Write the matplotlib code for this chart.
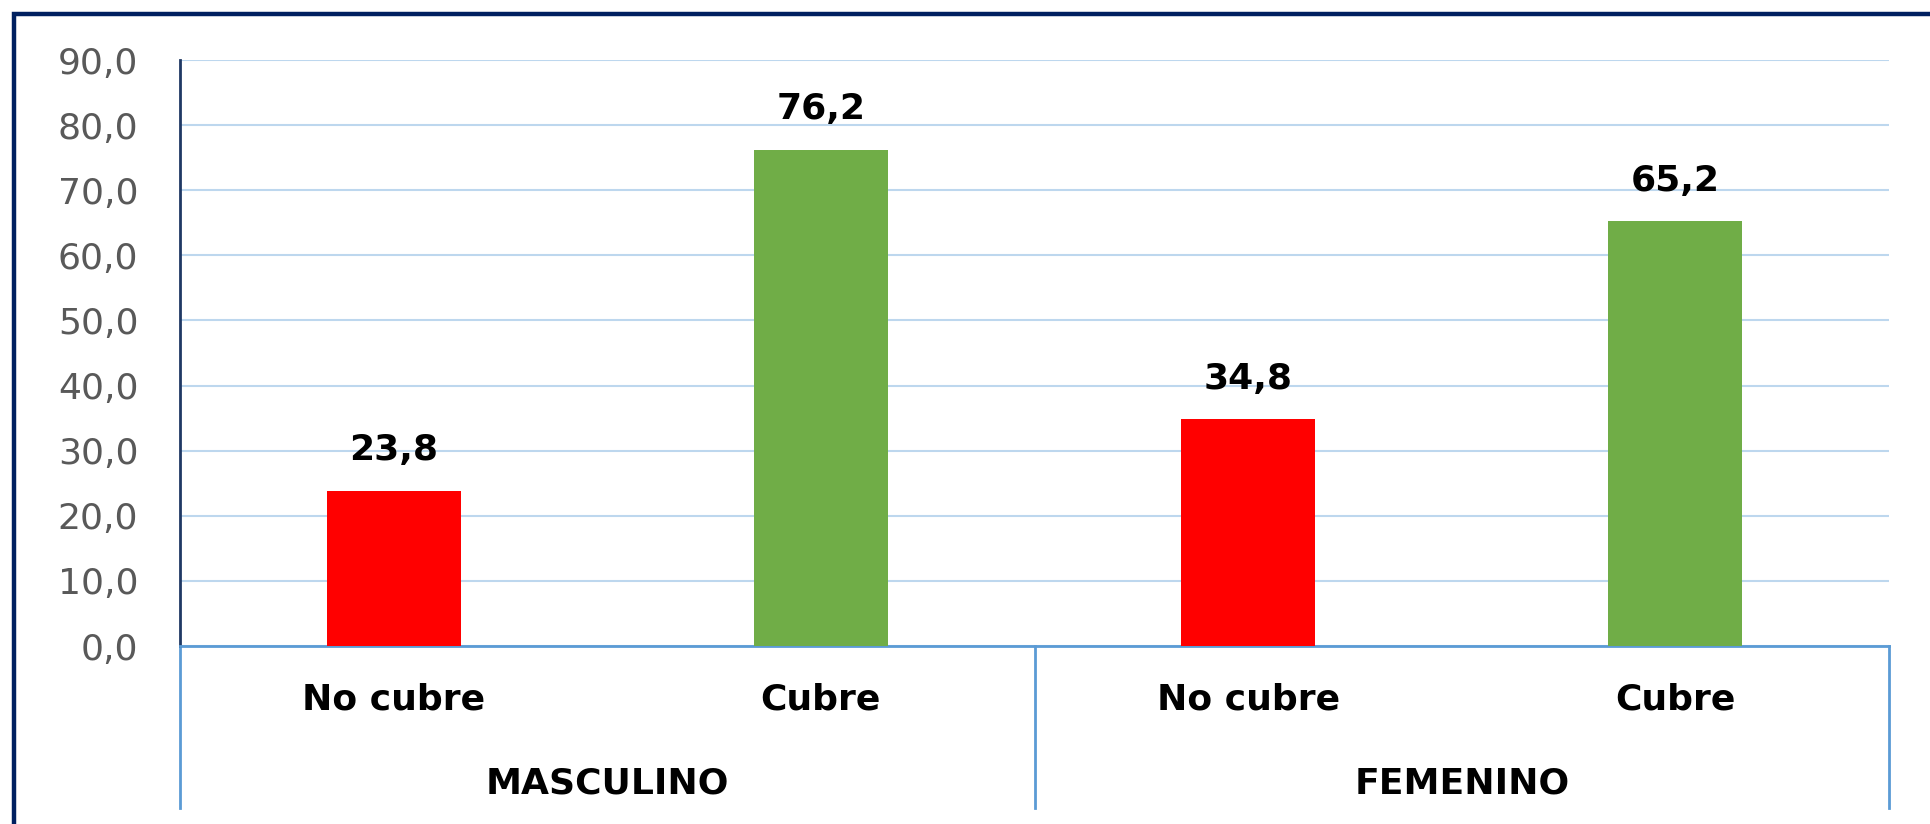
import matplotlib.pyplot as plt
import matplotlib.transforms as mtransforms
from matplotlib.patches import Rectangle

# data
categories = ["No cubre", "Cubre", "No cubre", "Cubre"]
groups = ["MASCULINO", "FEMENINO"]
values = [23.8, 76.2, 34.8, 65.2]
colors = ["#FF0000", "#70AD47", "#FF0000", "#70AD47"]
yticks = [0, 10, 20, 30, 40, 50, 60, 70, 80, 90]

plt.rcParams['font.family'] = 'DejaVu Sans'
FS = 26

W, H = 1930, 824
fig = plt.figure(figsize=(W / 100, H / 100), dpi=100)

# outer frame (cropped at right and bottom)
fig.patches.append(Rectangle((14 / W, -0.1), 1.2, 1 - 14 / H + 0.1, transform=fig.transFigure,
                             fill=False, edgecolor="#002060", linewidth=3.2))

x0, x1, y_top, y_zero = 180, 1889, 60, 646
ax = fig.add_axes([x0 / W, 1 - y_zero / H, (x1 - x0) / W, (y_zero - y_top) / H])

xs = list(range(len(categories)))
ax.bar(xs, values, width=0.314, color=colors, zorder=3)

for x, v in zip(xs, values):
    ax.annotate(f"{v:.1f}".replace(".", ","), (x, v), xytext=(0, 22), textcoords="offset points",
                ha="center", va="baseline", fontsize=FS, fontweight="bold", color="black")

ax.set_xlim(-0.5, len(categories) - 0.5)
ax.set_ylim(0, 90)
ax.set_yticks(yticks)
ax.set_yticklabels([f"{t:.1f}".replace(".", ",") for t in yticks], fontsize=FS, color="#595959")
ax.tick_params(axis="y", length=0, pad=30)
ax.set_xticks([])
ax.grid(axis="y", color="#BDD7EE", linewidth=1.5, zorder=0)

for s in ["top", "right"]:
    ax.spines[s].set_visible(False)
ax.spines["left"].set_color("#1F3864")
ax.spines["left"].set_linewidth(2)
ax.spines["bottom"].set_color("#5B9BD5")
ax.spines["bottom"].set_linewidth(2)

# multi-level category axis
trans = mtransforms.blended_transform_factory(ax.transData, ax.transAxes)
depth = -(808 - y_zero) / (y_zero - y_top)
for xb in [-0.5, 1.5, 3.5]:
    ax.plot([xb, xb], [0, depth], transform=trans, clip_on=False, color="#5B9BD5", linewidth=2)

for x, c in zip(xs, categories):
    ax.text(x, -(700 - y_zero) / (y_zero - y_top), c, transform=trans, ha="center", va="center",
            fontsize=FS, fontweight="bold", color="black")
for i, g in enumerate(groups):
    ax.text(2 * i + 0.5, -(783 - y_zero) / (y_zero - y_top), g, transform=trans, ha="center", va="center",
            fontsize=FS, fontweight="bold", color="black")

fig.savefig("out.png", dpi=100)
